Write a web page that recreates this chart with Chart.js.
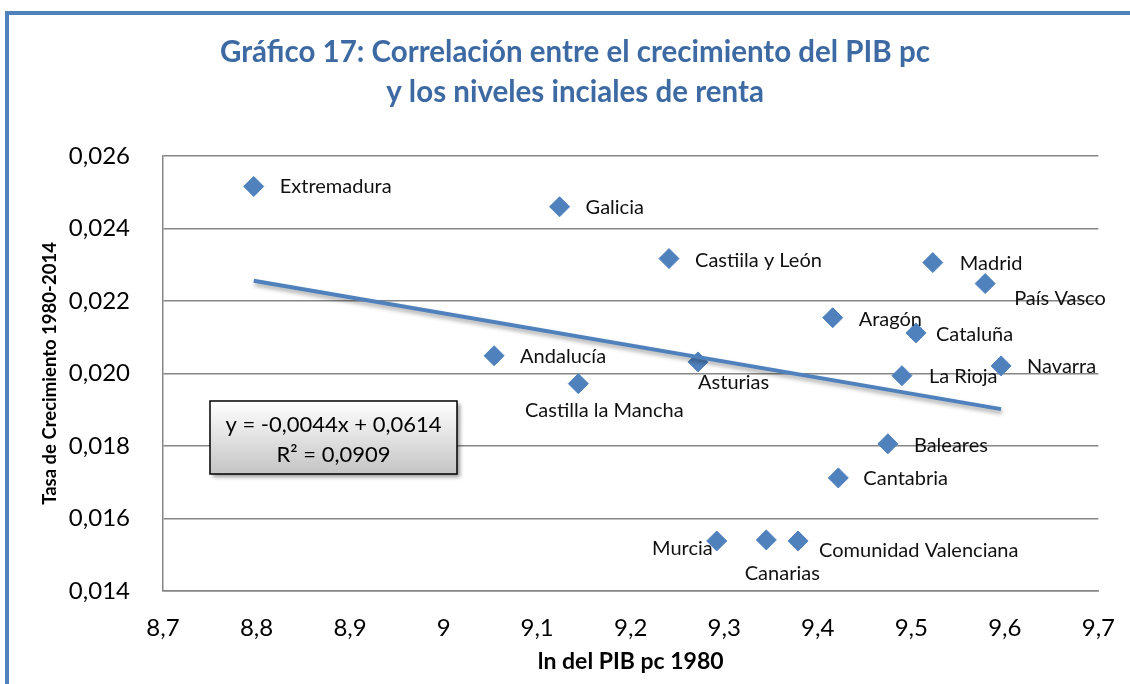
<!DOCTYPE html>
<html lang="es">

<head>
    <meta charset="UTF-8">
    <title>Gráfico 17 | Correlación PIB pc</title>
    <script src="https://cdn.jsdelivr.net/npm/chart.js"></script>
    <style>
        html, body { margin: 0; padding: 0; background: #fff; overflow: hidden; }
        .marco { position: absolute; left: 5px; top: 11px; width: 1200px; height: 800px; border: 4px solid #4F81BD; box-sizing: border-box; }
        .container-chart { position: absolute; left: 0; top: 0; width: 1130px; height: 684px; }
    </style>
</head>

<body>
    <div class="marco"></div>
    <div class="container-chart">
        <canvas id="graficoCorrelacion" width="1130" height="684"></canvas>
    </div>
</body>

</html>
<script>
    // Datos
    const regiones = ['Extremadura', 'Galicia', 'Castiila y León', 'Madrid', 'País Vasco', 'Aragón', 'Cataluña',
        'Andalucía', 'Asturias', 'Navarra', 'La Rioja', 'Castilla la Mancha', 'Baleares', 'Cantabria',
        'Murcia', 'Canarias', 'Comunidad Valenciana'];
    const lnPib1980 = [8.797, 9.124, 9.241, 9.523, 9.579, 9.416, 9.505,
        9.054, 9.272, 9.596, 9.490, 9.144, 9.475, 9.422,
        9.292, 9.345, 9.379];
    const tasaCrecimiento = [0.02516, 0.02460, 0.02317, 0.02306, 0.02248, 0.02154, 0.02112,
        0.02049, 0.02032, 0.02021, 0.01994, 0.01972, 0.01806, 0.01712,
        0.01538, 0.01541, 0.01538];
    const ticksX = ['8,7', '8,8', '8,9', '9', '9,1', '9,2', '9,3', '9,4', '9,5', '9,6', '9,7'];
    const ticksY = ['0,014', '0,016', '0,018', '0,020', '0,022', '0,024', '0,026'];
    const tituloLineas = ['Gráfico 17: Correlación entre el crecimiento del PIB pc', 'y los niveles inciales de renta'];
    const ecuacion = ['y = -0,0044x + 0,0614', 'R² = 0,0909'];

    const AZUL = '#4F81BD';
    const FUENTE = 'Lato, "Open Sans", sans-serif';

    // recta de regresion (minimos cuadrados) sobre los puntos
    function regresion(xs, ys) {
        let n = xs.length, sx = 0, sy = 0, sxx = 0, sxy = 0;
        for (let i = 0; i < n; i++) {
            sx += xs[i]; sy += ys[i]; sxx += xs[i] * xs[i]; sxy += xs[i] * ys[i];
        }
        const b = (n * sxy - sx * sy) / (n * sxx - sx * sx);
        const a = (sy - b * sx) / n;
        return { a: a, b: b };
    }

    const reg = regresion(lnPib1980, tasaCrecimiento);
    const xMin = Math.min(...lnPib1980);
    const xMax = Math.max(...lnPib1980);

    const puntos = lnPib1980.map(function (x, i) { return { x: x, y: tasaCrecimiento[i] }; });
    const tendencia = [
        { x: xMin, y: reg.a + reg.b * xMin },
        { x: xMax, y: reg.a + reg.b * xMax }
    ];

    // posicion de cada etiqueta respecto a su punto: [dx, dy, alineacion]
    const posEtiquetas = [
        [26, 0, 'left'], [26, 1, 'left'], [26, 2, 'left'], [27, 1, 'left'], [29, 15, 'left'],
        [26, 2, 'left'], [20, 2, 'left'], [26, 1, 'left'], [0, 21, 'left'], [26, 1, 'left'],
        [27, 1, 'left'], [26, 27, 'center'], [26, 2, 'left'], [25, 1, 'left'],
        [-4, 8, 'right'], [16, 34, 'center'], [21, 10, 'left']
    ];

    const pluginTitulo = {
        id: 'titulo',
        afterDraw(chart) {
            const ctx = chart.ctx;
            ctx.save();
            ctx.fillStyle = '#3D6AA3';
            ctx.font = 'bold 29.5px ' + FUENTE;
            ctx.textAlign = 'center';
            ctx.textBaseline = 'middle';
            ctx.fillText(tituloLineas[0], 575, 52);
            ctx.fillText(tituloLineas[1], 575, 92);
            ctx.restore();
        }
    };

    const pluginSombra = {
        id: 'sombra',
        beforeDatasetDraw(chart, args) {
            if (args.index !== 1) return;
            const ctx = chart.ctx;
            ctx.save();
            ctx.shadowColor = 'rgba(0,0,0,0.35)';
            ctx.shadowOffsetX = 1;
            ctx.shadowOffsetY = 3;
            ctx.shadowBlur = 4;
        },
        afterDatasetDraw(chart, args) {
            if (args.index !== 1) return;
            chart.ctx.restore();
        }
    };

    const pluginEtiquetas = {
        id: 'etiquetas',
        afterDatasetsDraw(chart) {
            const ctx = chart.ctx;
            const meta = chart.getDatasetMeta(0);
            ctx.save();
            ctx.fillStyle = '#111';
            ctx.font = '20px ' + FUENTE;
            ctx.textBaseline = 'middle';
            meta.data.forEach(function (p, i) {
                const pos = posEtiquetas[i];
                ctx.textAlign = pos[2];
                ctx.fillText(regiones[i], p.x + pos[0], p.y + pos[1]);
            });
            ctx.restore();
        }
    };

    const pluginEcuacion = {
        id: 'ecuacion',
        afterDraw(chart) {
            const ctx = chart.ctx;
            const x = 210, y = 401, w = 247, h = 73;
            ctx.save();
            ctx.shadowColor = 'rgba(0,0,0,0.4)';
            ctx.shadowOffsetX = 3;
            ctx.shadowOffsetY = 3;
            ctx.shadowBlur = 4;
            const grad = ctx.createLinearGradient(0, y, 0, y + h);
            grad.addColorStop(0, '#ffffff');
            grad.addColorStop(1, '#c4c4c4');
            ctx.fillStyle = grad;
            ctx.fillRect(x, y, w, h);
            ctx.shadowColor = 'transparent';
            ctx.strokeStyle = '#000';
            ctx.lineWidth = 1.5;
            ctx.strokeRect(x, y, w, h);
            ctx.fillStyle = '#000';
            ctx.font = '22px ' + FUENTE;
            ctx.textAlign = 'center';
            ctx.textBaseline = 'middle';
            ctx.fillText(ecuacion[0], x + w / 2, 425);
            ctx.fillText(ecuacion[1], x + w / 2, 455);
            ctx.restore();
        }
    };

    const config = {
        type: 'scatter',
        data: {
            datasets: [{
                label: 'Regiones',
                data: puntos,
                pointStyle: 'rectRot',
                pointRadius: 10,
                pointHoverRadius: 10,
                backgroundColor: AZUL,
                borderColor: AZUL,
                borderWidth: 1,
                order: 1
            }, {
                type: 'line',
                label: 'Tendencia',
                data: tendencia,
                borderColor: AZUL,
                borderWidth: 4,
                pointRadius: 0,
                fill: false,
                order: 0
            }]
        },
        options: {
            responsive: false,
            animation: false,
            layout: { padding: { left: 30, right: 18, top: 156, bottom: 8 } },
            plugins: {
                legend: { display: false },
                tooltip: { enabled: false }
            },
            scales: {
                x: {
                    type: 'linear',
                    min: 8.7,
                    max: 9.7,
                    ticks: {
                        stepSize: 0.1,
                        padding: 15,
                        color: '#000',
                        font: { family: FUENTE, size: 24 },
                        callback: function (v, i) { return ticksX[i]; }
                    },
                    grid: { display: false },
                    border: { display: true, color: '#868686', width: 1.5 },
                    title: {
                        display: true,
                        text: 'ln del PIB pc 1980',
                        color: '#000',
                        font: { family: FUENTE, size: 23, weight: 'bold' },
                        padding: { top: 0, bottom: 1 }
                    },
                    afterFit: function (s) { s.height = 85; }
                },
                y: {
                    min: 0.014,
                    max: 0.026,
                    ticks: {
                        stepSize: 0.002,
                        padding: 33,
                        color: '#000',
                        font: { family: FUENTE, size: 24 },
                        callback: function (v, i) { return ticksY[i]; }
                    },
                    grid: { color: '#868686', lineWidth: 1.5, drawTicks: false },
                    border: { display: true, color: '#868686', width: 1.5 },
                    title: {
                        display: true,
                        text: 'Tasa de Crecimiento 1980-2014',
                        color: '#000',
                        font: { family: FUENTE, size: 18.5, weight: 'bold' },
                        padding: { top: 9, bottom: 0 }
                    },
                    afterFit: function (s) { s.width = 133; }
                }
            }
        },
        plugins: [pluginTitulo, pluginSombra, pluginEtiquetas, pluginEcuacion]
    };

    let graficoCorrelacion = new Chart(document.getElementById('graficoCorrelacion'), config);
</script>
